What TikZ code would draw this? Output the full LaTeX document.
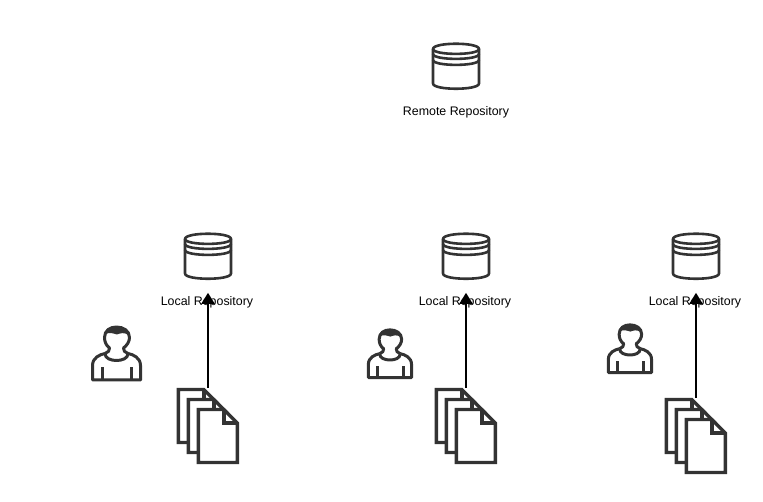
\documentclass[tikz,border=0pt]{standalone}
\usepackage{fontspec}
\setmainfont{Liberation Sans}
\usetikzlibrary{arrows.meta}
\definecolor{iconc}{HTML}{333333}
\tikzset{
  x=1pt,y=-1pt,
  ico/.style={draw=iconc,line width=3pt,line join=round,fill=white},
  lab/.style={font=\fontsize{12.4}{14}\selectfont,inner sep=0pt,text height=13pt,text depth=1pt,text=black},
  docbox/.style={minimum width=62pt,minimum height=76pt,inner sep=0pt},
  conn/.style={draw=black,line width=2pt,-{Triangle[length=11pt,width=13pt]}},
  dbicon/.pic={
    \path[ico,line width=2.6pt] (-23,5.5) .. controls (-23,-1.5) and (23,-1.5) .. (23,5.5)
      -- (23,40) .. controls (23,47) and (-23,47) .. (-23,40) -- cycle;
    \draw[ico,line width=2.6pt,fill=none] (-23,5.5) .. controls (-23,12) and (23,12) .. (23,5.5);
    \draw[ico,line width=2.6pt,fill=none] (-23,10.5) .. controls (-23,17) and (23,17) .. (23,10.5);
    \draw[ico,line width=2.6pt,fill=none] (-23,16.5) .. controls (-23,23) and (23,23) .. (23,16.5);
  },
  usericon/.pic={
    \path[ico] (14,28) .. controls (9,29) and (1.5,32) .. (1.5,40) -- (1.5,54.5) -- (49.5,54.5) -- (49.5,40)
      .. controls (49.5,32) and (42,29) .. (37,28);
    \draw[ico,fill=none] (14,28) .. controls (14,33) and (20,35) .. (25.5,35) .. controls (31,35) and (37,33) .. (37,28);
    \draw[ico,fill=none] (14,28) .. controls (17,27) and (19,25) .. (18.5,22.5)
      .. controls (15,20) and (13.5,16) .. (13.5,12) .. controls (13.5,5) and (19,1.5) .. (25.5,1.5)
      .. controls (32,1.5) and (38.5,5) .. (38.5,12) .. controls (38.5,16) and (36,20) .. (32.5,22.5)
      .. controls (32,25) and (34,27) .. (37,28);
    \fill[iconc] (14.5,9) .. controls (16,3) and (21,1) .. (25.5,1) .. controls (31,1) and (36,3) .. (38,10)
      .. controls (33,6) and (29,8) .. (26,9) .. controls (22,8) and (18,6) .. (14.5,9) -- cycle;
    \draw[iconc,line width=3pt] (11.5,42) -- (11.5,54.5) (40.5,42) -- (40.5,54.5);
  },
  docicon/.pic={
    \foreach \dx/\dy in {0/0,10/10,20/20}{
      \begin{scope}[shift={(\dx,\dy)}]
        \path[ico,line width=3.4pt,miter limit=10,line join=miter] (1.5,1.5) -- (27,1.5) -- (40.5,15) -- (40.5,54.5) -- (1.5,54.5) -- cycle;
        \draw[ico,line width=3.4pt,fill=none,line join=miter] (27,1.5) -- (27,15) -- (40.5,15);
      \end{scope}
    }
  }
}
\begin{document}
\begin{tikzpicture}
\useasboundingbox (0,0) rectangle (763,502);

\pic at (456,43.5) {dbicon};
\node[lab] (remote) at (456,110) {Remote Repository};

\pic at (208,233.5) {dbicon};
\pic at (466,233.5) {dbicon};
\pic at (696,233.5) {dbicon};
\node[lab] (local1) at (207,300) {Local Repository};
\node[lab] (local2) at (465,300) {Local Repository};
\node[lab] (local3) at (695,300) {Local Repository};

\pic at (91,325.5) {usericon};
\pic[scale=.9] at (367,328.5) {usericon};
\pic[scale=.9] at (607,323.5) {usericon};

\pic at (176.8,388) {docicon};
\pic at (434.8,388) {docicon};
\pic at (664.8,398) {docicon};
\node[docbox] (docs1) at (208,426) {};
\node[docbox] (docs2) at (466,426) {};
\node[docbox] (docs3) at (696,436) {};

\draw[conn] (docs1.north) -- (docs1.north |- local1.north);
\draw[conn] (docs2.north) -- (docs2.north |- local2.north);
\draw[conn] (docs3.north) -- (docs3.north |- local3.north);
\end{tikzpicture}
\end{document}
